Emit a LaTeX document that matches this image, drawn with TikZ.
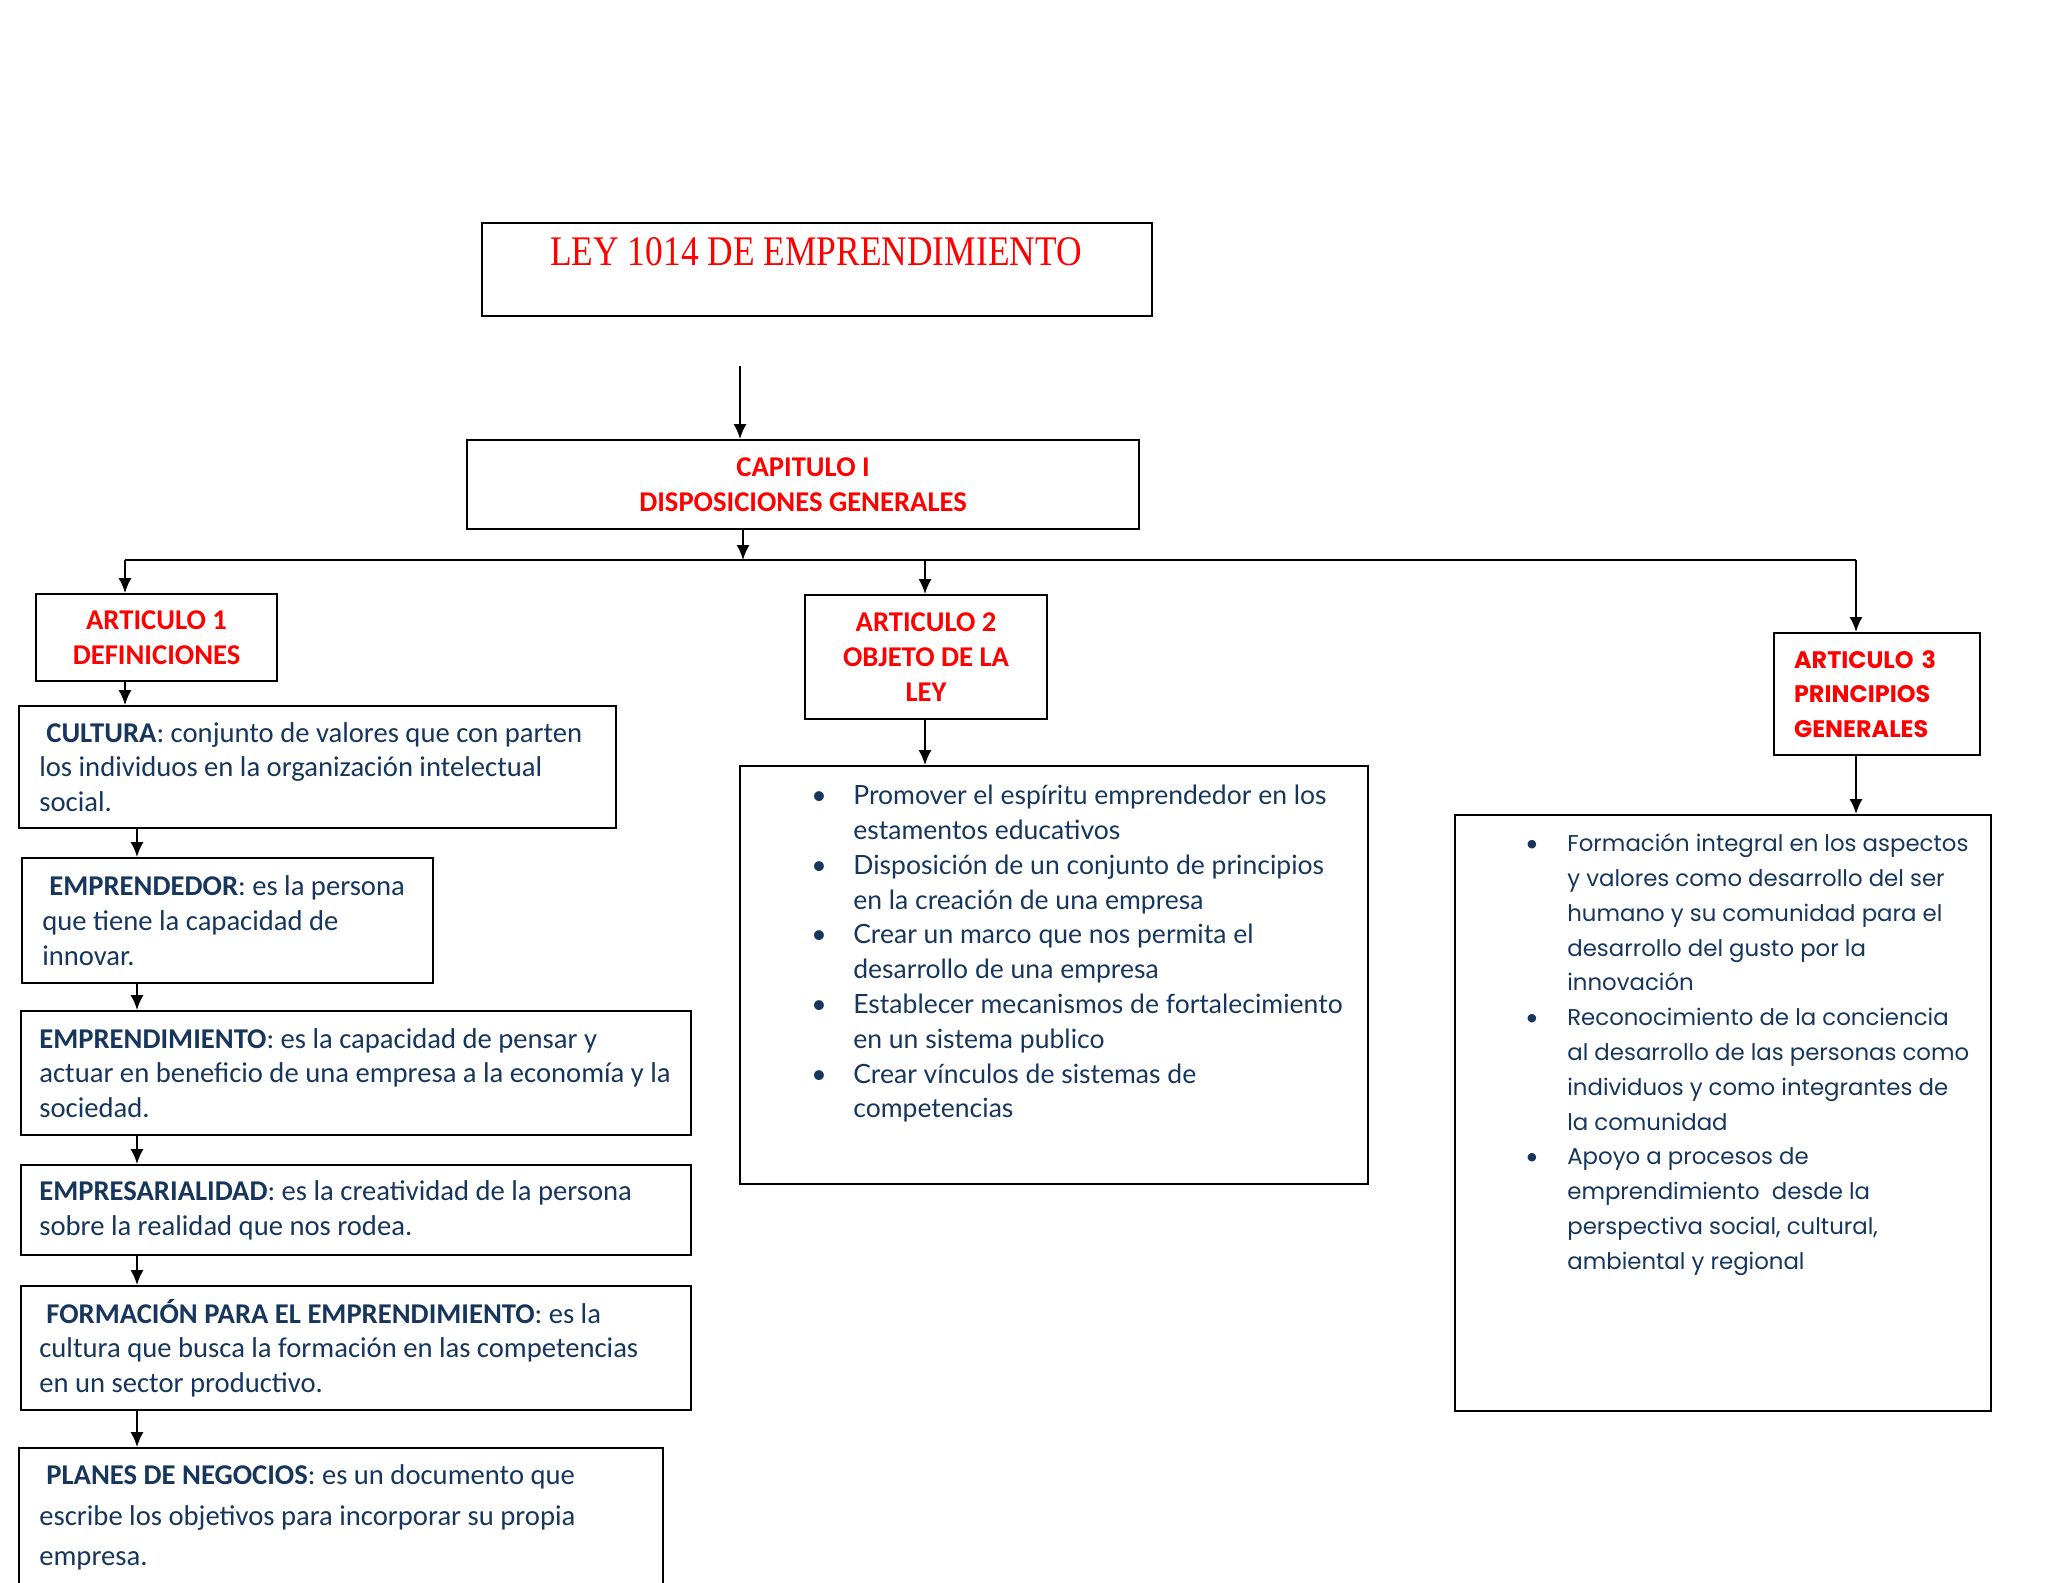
\documentclass[tikz,border=0pt]{standalone}
\usepackage{fontspec}
\setmainfont{Carlito}
\newfontfamily\titulofont[FakeStretch=0.84]{Liberation Serif}
\newfontfamily\objetofont{Lato}
\newfontfamily\principiosfont{Poppins}
\usetikzlibrary{positioning}
\usetikzlibrary{arrows.meta}
\definecolor{rojoley}{HTML}{FF0000}
\definecolor{azulley}{HTML}{17365D}
\newcommand{\px}{0.02cm}
\newcommand{\punto}{{\objetofont\textbullet}}

\tikzset{
  caja/.style = {draw, line width=1.2pt, inner sep=0pt, anchor=north west},
  rotulo/.style = {text=rojoley, font=\bfseries\fontsize{16.3}{19.8}\selectfont, align=center},
  definicion/.style = {text=azulley, font=\fontsize{16.3}{19.8}\selectfont, align=left, inner sep=0pt},
  flecha/.style = {-{Latex[length=8.5pt, width=7.5pt]}, line width=1.2pt},
}

\begin{document}
\begin{tikzpicture}[x=\px, y=-\px]

\clip (0,0) rectangle (2048,1582);
\fill[white] (0,0) rectangle (2048,1582);

% cabecera
\node[caja, minimum width=670*\px, minimum height=93*\px] at (481,222) (titulo) {};
\node[text=rojoley, font=\titulofont\fontsize{24}{28}\selectfont, inner sep=0pt] at (816,252) (titulotexto) {LEY 1014 DE EMPRENDIMIENTO};
\node[caja, rotulo, minimum width=672*\px, minimum height=89*\px] at (466,439) (capitulo) {CAPITULO I\\DISPOSICIONES GENERALES};

% articulos
\node[caja, rotulo, minimum width=241*\px, minimum height=87*\px] at (35,593) (art1) {ARTICULO 1\\DEFINICIONES};
\node[caja, rotulo, minimum width=242*\px, minimum height=124*\px] at (804,594) (art2) {ARTICULO 2\\OBJETO DE LA\\LEY};
\node[caja, rotulo, font=\principiosfont\bfseries\fontsize{13.6}{19.8}\selectfont, align=left, text width=166*\px, minimum width=206*\px, minimum height=122*\px] at (1773,632) (art3) {ARTICULO 3\\PRINCIPIOS\\GENERALES};

% definiciones
\node[caja, minimum width=597*\px, minimum height=122*\px] at (18,705) (cultura) {};
\node[definicion, right=0.42cm of cultura.west] (culturatexto) {\hspace*{4pt}\textbf{CULTURA}: conjunto de valores que con parten\\los individuos en la organización intelectual\\social.};

\node[caja, minimum width=411*\px, minimum height=125*\px] at (21,857) (emprendedor) {};
\node[definicion, right=0.42cm of emprendedor.west] (emprendedortexto) {\hspace*{4pt}\textbf{EMPRENDEDOR}: es la persona\\que tiene la capacidad de\\innovar.};

\node[caja, minimum width=670*\px, minimum height=124*\px] at (20,1010) (emprendimiento) {};
\node[definicion, right=0.38cm of emprendimiento.west] (emprendimientotexto) {\textbf{EMPRENDIMIENTO}: es la capacidad de pensar y\\actuar en beneficio de una empresa a la economía y la\\sociedad.};

\node[caja, minimum width=670*\px, minimum height=90*\px] at (20,1164) (empresarialidad) {};
\node[definicion, right=0.38cm of empresarialidad.west] (empresarialidadtexto) {\textbf{EMPRESARIALIDAD}: es la creatividad de la persona\\sobre la realidad que nos rodea.};

\node[caja, minimum width=670*\px, minimum height=124*\px] at (20,1285) (formacion) {};
\node[definicion, right=0.38cm of formacion.west] (formaciontexto) {\hspace*{4pt}\textbf{FORMACIÓN PARA EL EMPRENDIMIENTO}: es la\\cultura que busca la formación en las competencias\\en un sector productivo.};

\node[caja, minimum width=644*\px, minimum height=220*\px] at (18,1447) (planes) {};
\node[definicion, font=\fontsize{16.3}{23}\selectfont, below right=0.35cm and 0.42cm of planes.north west] (planestexto) {\hspace*{4pt}\textbf{PLANES DE NEGOCIOS}: es un documento que\\escribe los objetivos para incorporar su propia\\empresa.};

% objeto y principios
\node[caja, minimum width=628*\px, minimum height=418*\px] at (739,765) (objeto) {};
\node[definicion, font=\objetofont\fontsize{15.1}{19.8}\selectfont, below right=0.3cm and 1.44cm of objeto.north west] (objetotexto) {\begin{tabular}{@{}p{0.84cm}@{}l@{}}
\punto & Promover el espíritu emprendedor en los\\
 & estamentos educativos\\
\punto & Disposición de un conjunto de principios\\
 & en la creación de una empresa\\
\punto & Crear un marco que nos permita el\\
 & desarrollo de una empresa\\
\punto & Establecer mecanismos de fortalecimiento\\
 & en un sistema publico\\
\punto & Crear vínculos de sistemas de\\
 & competencias
\end{tabular}};

\node[caja, minimum width=536*\px, minimum height=596*\px] at (1454,814) (principios) {};
\node[definicion, font=\principiosfont\fontsize{13}{19.8}\selectfont, below right=0.26cm and 1.42cm of principios.north west] (principiostexto) {\begin{tabular}{@{}p{0.84cm}@{}l@{}}
\punto & Formación integral en los aspectos\\
 & y valores como desarrollo del ser\\
 & humano y su comunidad para el\\
 & desarrollo del gusto por la\\
 & innovación\\
\punto & Reconocimiento de la conciencia\\
 & al desarrollo de las personas como\\
 & individuos y como integrantes de\\
 & la comunidad\\
\punto & Apoyo a procesos de\\
 & emprendimiento\ \ desde la\\
 & perspectiva social, cultural,\\
 & ambiental y regional
\end{tabular}};

% conectores
\coordinate (colA) at (125,0);
\coordinate (colB) at (137,0);
\coordinate (colC) at (743,0);
\coordinate (colD) at (925,0);
\coordinate (colE) at (1856,0);
\coordinate (bus) at (0,560);
\coordinate (inicio) at (740,366);

\draw[flecha] (inicio) -- (inicio |- capitulo.north);
\draw[flecha] (colC |- capitulo.south) -- (colC |- bus);
\draw[line width=1.2pt] (colA |- bus) -- (colE |- bus);
\draw[flecha] (colA |- bus) -- (colA |- art1.north);
\draw[flecha] (colD |- bus) -- (colD |- art2.north);
\draw[flecha] (colE |- bus) -- (colE |- art3.north);
\draw[flecha] (colA |- art1.south) -- (colA |- cultura.north);
\foreach \a/\b in {cultura/emprendedor, emprendedor/emprendimiento, emprendimiento/empresarialidad, empresarialidad/formacion, formacion/planes}
  \draw[flecha] (colB |- \a.south) -- (colB |- \b.north);
\draw[flecha] (colD |- art2.south) -- (colD |- objeto.north);
\draw[flecha] (colE |- art3.south) -- (colE |- principios.north);

\end{tikzpicture}
\end{document}
